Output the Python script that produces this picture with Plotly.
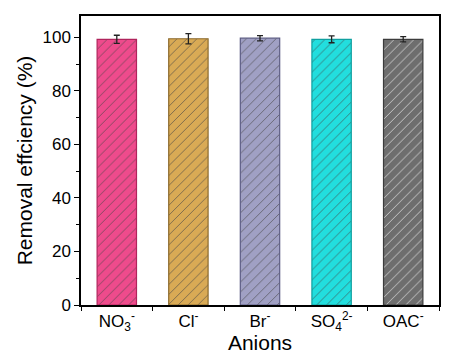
import plotly.graph_objects as go

categories = ["NO<sub>3</sub><sup>-</sup>", "Cl<sup>-</sup>", "Br<sup>-</sup>",
              "SO<sub>4</sub><sup>2-</sup>", "OAC<sup>-</sup>"]
values = [99.3, 99.5, 99.7, 99.3, 99.3]
errors = [1.5, 1.9, 1.0, 1.3, 1.0]
fill_colors = ["#ee4b8c", "#d9aa55", "#a0a0c4", "#22dede", "#6e6e6e"]
edge_colors = ["#b0245c", "#8c6a2c", "#5c5c84", "#10a0a0", "#3c3c3c"]

fig = go.Figure()
fig.add_trace(go.Bar(
    x=categories, y=values, width=0.55,
    marker=dict(
        color=fill_colors,
        line=dict(color=edge_colors, width=1.2),
        pattern=dict(shape="/", fgcolor="#111111", fgopacity=0.85, size=7, solidity=0.1,
                     fillmode="overlay"),
    ),
    error_y=dict(type="data", array=errors, color="#222", thickness=1.3, width=3),
    showlegend=False,
))

fig.update_layout(
    width=453, height=363,
    margin=dict(l=81, r=12, t=16, b=58),
    plot_bgcolor="white", paper_bgcolor="white",
    font=dict(family="Liberation Sans, Arial, sans-serif", color="black"),
)
fig.update_xaxes(
    range=[-0.5, 4.5], showline=True, linecolor="black", linewidth=1.5, mirror=True,
    ticks="outside", tickson="boundaries", ticklen=4, tickwidth=1, tickcolor="black",
    tickfont=dict(size=17), showgrid=False,
    title=dict(text="Anions", font=dict(size=21), standoff=2),
)
fig.update_yaxes(
    range=[0, 108], showline=True, linecolor="black", linewidth=1.5, mirror=True,
    ticks="outside", ticklen=5, tickwidth=1, tickcolor="black", dtick=20,
    minor=dict(ticks="outside", dtick=10, ticklen=3, tickcolor="black"),
    tickfont=dict(size=17), showgrid=False, zeroline=False,
    title=dict(text="Removal effciency (%)", font=dict(size=21), standoff=4),
)

fig.write_html("out.html")
